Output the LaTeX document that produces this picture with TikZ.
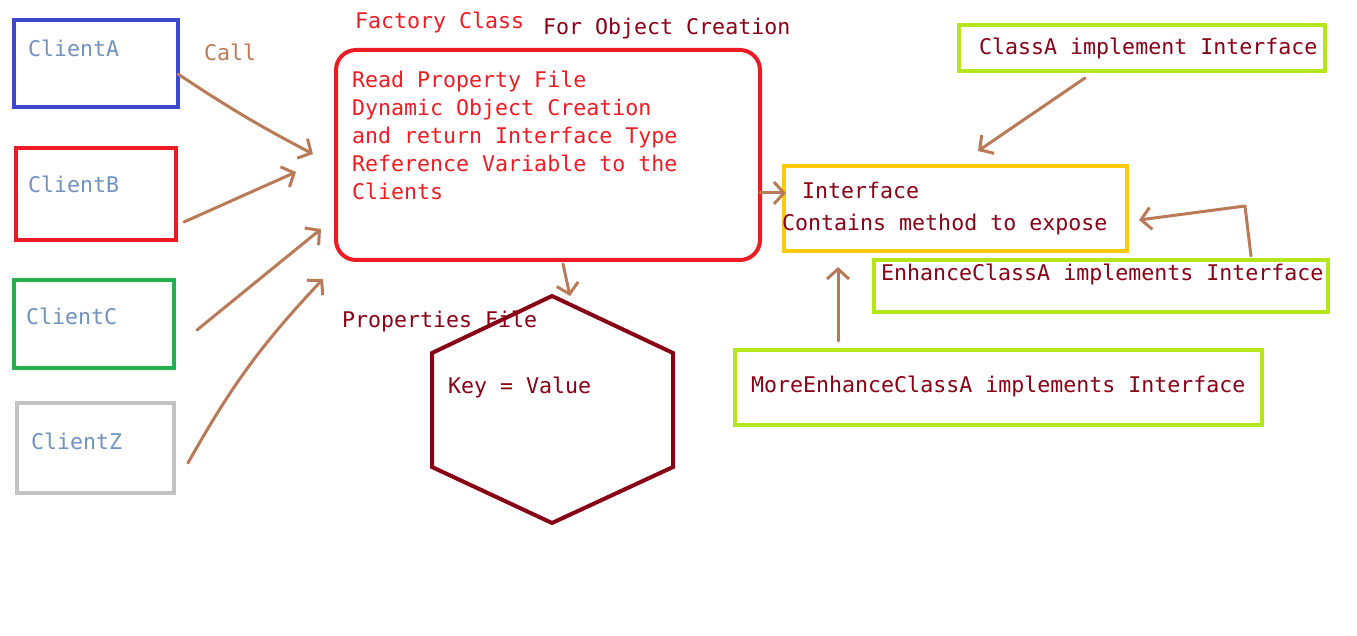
\documentclass[tikz,border=0pt]{standalone}
\usepackage{fontspec}
\setmainfont{DejaVu Sans Mono}
\usetikzlibrary{arrows.meta}
\usetikzlibrary{positioning}

\definecolor{paintblue}{HTML}{3F48CC}
\definecolor{paintred}{HTML}{ED1C24}
\definecolor{paintgreen}{HTML}{22B14C}
\definecolor{paintgray}{HTML}{C3C3C3}
\definecolor{paintgold}{HTML}{FFC90E}
\definecolor{paintlime}{HTML}{B5E61D}
\definecolor{paintbrown}{HTML}{B97A57}
\definecolor{paintmaroon}{HTML}{880015}
\definecolor{paintsteel}{HTML}{7092BE}

\begin{document}
\begin{tikzpicture}[x=1pt,y=-1pt]
		\tikzset{box/.style = {shape=rectangle,draw,line width=4pt,inner sep=0pt}}
		\tikzset{txt/.style = {anchor=base west,inner sep=0pt,font=\fontsize{21.6}{28}\selectfont}}
		\tikzset{edge/.style = {draw=paintbrown,line width=3pt,line cap=round,line join=round,
				-{Straight Barb[length=10pt,width=22pt]}}}
		\useasboundingbox (0,0) rectangle (1357,636);
		% boxes
		\node[box,draw=paintblue,minimum width=164pt,minimum height=87pt] (clientA) at (96,63.5) {};
		\node[box,draw=paintred,minimum width=160pt,minimum height=92pt] (clientB) at (96,194) {};
		\node[box,draw=paintgreen,minimum width=160pt,minimum height=88pt] (clientC) at (94,324) {};
		\node[box,draw=paintgray,minimum width=157pt,minimum height=90pt] (clientZ) at (95.5,448) {};
		
		\node[box,draw=paintred,rounded corners=20pt,minimum width=424pt,minimum height=210pt] (factory) at (548,155) {};
		
		\node[box,draw=paintgold,minimum width=343pt,minimum height=85pt] (iface) at (955.5,208.5) {};
		\node[box,draw=paintlime,minimum width=366pt,minimum height=46pt] (classA) at (1142,48) {};
		\node[box,draw=paintlime,minimum width=454pt,minimum height=52pt] (enhance) at (1101,286) {};
		\node[box,draw=paintlime,minimum width=527pt,minimum height=75pt] (moreEnh) at (998.5,387.5) {};
		
		% hexagon
		\coordinate (hexTop) at (552,296);
		\draw[line width=4pt,draw=paintmaroon] (hexTop) -- (673,353) -- (673,467) -- (552,523)
			-- (432,467) -- (432,353) -- cycle;
		
		% texts
		\node[txt,paintsteel] (clientAtxt) at (28,57) {ClientA};
		\node[txt,paintsteel] (clientBtxt) at (28,193) {ClientB};
		\node[txt,paintsteel] (clientCtxt) at (26,324) {ClientC};
		\node[txt,paintsteel] (clientZtxt) at (31,449) {ClientZ};
		\node[txt,paintbrown] (call) at (204,61) {Call};
		
		\node[txt,paintred] (factoryname) at (355,29) {Factory Class};
		\node[txt,paintmaroon] (purpose) at (543,35) {For Object Creation};
		\node[txt,paintred,align=left] (factorytxt) at (352,200) {Read Property File\\Dynamic Object Creation\\and return Interface Type\\Reference Variable to the\\Clients};
		
		\node[txt,paintmaroon] (ifacename) at (802,199) {Interface};
		\node[txt,paintmaroon] (ifacetxt) at (782,231) {Contains method to expose};
		\node[txt,paintmaroon] (classAtxt) at (979,55) {ClassA implement Interface};
		\node[txt,paintmaroon] (enhancetxt) at (881,281) {EnhanceClassA implements Interface};
		\node[txt,paintmaroon] (moreEnhtxt) at (751,392) {MoreEnhanceClassA implements Interface};
		
		\node[txt,paintmaroon] (propfile) at (342,327) {Properties File};
		\node[txt,paintmaroon] (keyvalue) at (448,393) {Key = Value};
		
		%edges
		\draw[edge] ([shift={(-2,10.5)}]clientA.east) to[bend right=3] ([shift={(-21,-1)}]factory.west);
		\draw[edge] ([shift={(6,28)}]clientB.east) -- ([shift={(-38,17)}]factory.west);
		\draw[edge] ([shift={(21,6)}]clientC.east) -- ([shift={(-13,-33)}]factory.south west);
		\draw[edge] ([shift={(12,15)}]clientZ.east) to[bend left=7] ([shift={(-11,17)}]factory.south west);
		
		\draw[edge] ([shift={(-2,38)}]factory.east) -- ([shift={(4,-15.5)}]iface.west);
		\draw[edge] ([shift={(15,2)}]factory.south) -- ([shift={(18,0)}]hexTop);
		
		\draw[edge] ([shift={(-57,5)}]classA.south) -- ([shift={(22.5,-13)}]iface.north);
		\draw[edge] ([shift={(150,-2)}]enhance.north) -- ++(-6,-50) -- ([shift={(10,11.5)}]iface.east);
		\draw[edge] ([shift={(-160.5,-7)}]moreEnh.north) -- ([shift={(-117.5,14)}]iface.south);
\end{tikzpicture}
\end{document}
